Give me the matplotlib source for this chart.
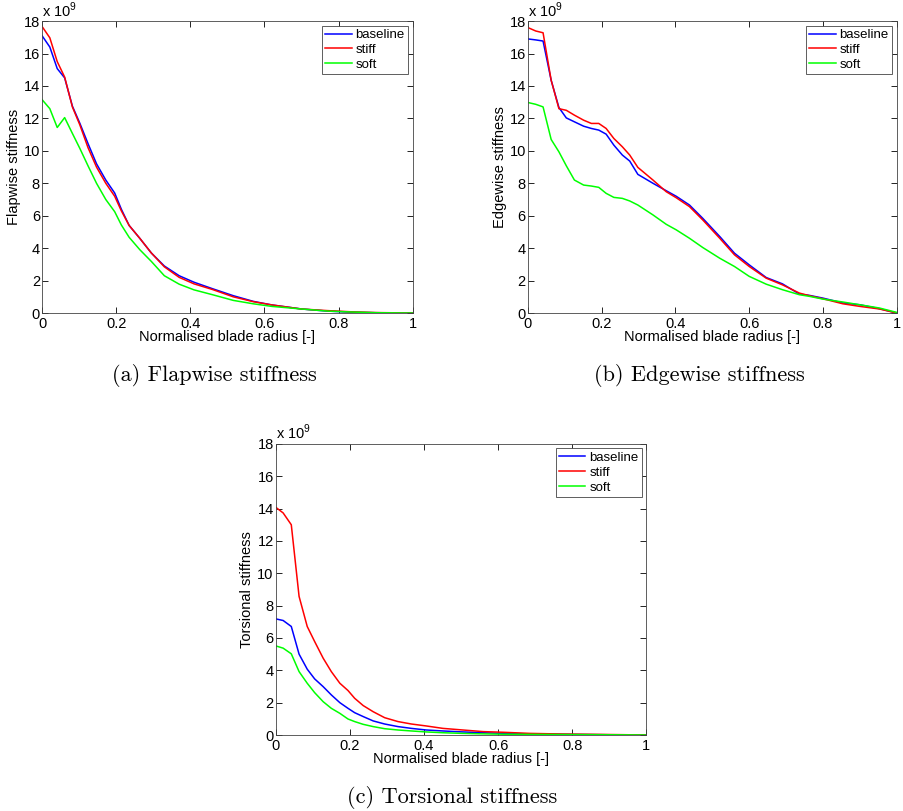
import matplotlib
matplotlib.use("Agg")
import matplotlib.pyplot as plt

plt.rcParams['font.family'] = ['Liberation Sans', 'DejaVu Sans']
plt.rcParams['mathtext.fontset'] = 'custom'
plt.rcParams['mathtext.rm'] = 'Liberation Sans'
plt.rcParams['font.size'] = 10.5

# stiffness values in units of 1e9
r_flap = [0, 0.021, 0.041, 0.061, 0.082, 0.102, 0.124, 0.147, 0.172, 0.196, 0.214,
          0.235, 0.264, 0.295, 0.33, 0.37, 0.41, 0.46, 0.516, 0.57, 0.62, 0.70,
          0.77, 0.84, 0.9, 1.0]
flap_baseline = [17.1, 16.4, 15.07, 14.5, 12.75, 11.7, 10.45, 9.2, 8.2, 7.4, 6.4,
                 5.4, 4.6, 3.7, 2.9, 2.3, 1.9, 1.5, 1.07, 0.72, 0.5, 0.25,
                 0.12, 0.05, 0.02, 0.0]
flap_stiff = [17.67, 16.97, 15.5, 14.55, 12.7, 11.6, 10.2, 9.0, 8.0, 7.2, 6.3,
              5.4, 4.6, 3.7, 2.85, 2.2, 1.8, 1.45, 1.0, 0.7, 0.5, 0.25,
              0.15, 0.07, 0.03, 0.0]
flap_soft = [13.16, 12.6, 11.44, 12.05, 11.07, 10.15, 9.08, 8.0, 7.0, 6.25, 5.43,
             4.67, 3.9, 3.18, 2.3, 1.78, 1.43, 1.13, 0.78, 0.57, 0.41, 0.25,
             0.12, 0.06, 0.02, 0.0]

r_edge = [0, 0.021, 0.041, 0.063, 0.084, 0.104, 0.126, 0.151, 0.172, 0.192, 0.212,
          0.233, 0.256, 0.276, 0.298, 0.339, 0.375, 0.402, 0.438, 0.474, 0.52,
          0.56, 0.60, 0.646, 0.69, 0.736, 0.763, 0.8, 0.854, 0.9, 0.953, 1.0]
edge_baseline = [16.9, 16.84, 16.77, 14.35, 12.67, 12.03, 11.79, 11.52, 11.38, 11.28, 11.03,
                 10.35, 9.74, 9.37, 8.55, 8.0, 7.54, 7.2, 6.66, 5.84, 4.72,
                 3.69, 2.97, 2.19, 1.8, 1.17, 1.09, 0.92, 0.62, 0.51, 0.27, 0.0]
edge_stiff = [17.6, 17.39, 17.28, 14.35, 12.6, 12.5, 12.2, 11.89, 11.69, 11.69, 11.38,
              10.76, 10.25, 9.74, 8.98, 8.2, 7.48, 7.11, 6.56, 5.74, 4.61,
              3.59, 2.87, 2.15, 1.74, 1.23, 1.07, 0.88, 0.57, 0.41, 0.25, 0.0]
edge_soft = [12.98, 12.87, 12.71, 10.7, 9.94, 9.08, 8.2, 7.89, 7.83, 7.75, 7.38,
             7.13, 7.07, 6.91, 6.66, 6.05, 5.47, 5.13, 4.61, 4.04, 3.38,
             2.87, 2.26, 1.78, 1.44, 1.13, 1.03, 0.86, 0.68, 0.51, 0.31, 0.04]

r_tors = [0, 0.02, 0.042, 0.063, 0.085, 0.105, 0.128, 0.15, 0.173, 0.195, 0.213,
          0.236, 0.263, 0.294, 0.33, 0.366, 0.406, 0.451, 0.505, 0.56, 0.613,
          0.685, 0.775, 0.865, 0.937, 1.0]
tors_baseline = [7.18, 7.08, 6.71, 5.0, 4.07, 3.47, 2.99, 2.48, 2.0, 1.65, 1.38,
                 1.14, 0.87, 0.68, 0.52, 0.41, 0.31, 0.25, 0.19, 0.14, 0.1,
                 0.07, 0.04, 0.02, 0.01, 0.0]
tors_stiff = [14.08, 13.73, 13.0, 8.57, 6.71, 5.78, 4.75, 3.92, 3.2, 2.75, 2.27,
              1.82, 1.44, 1.07, 0.83, 0.68, 0.56, 0.41, 0.31, 0.21, 0.17,
              0.1, 0.06, 0.04, 0.02, 0.0]
tors_soft = [5.51, 5.37, 5.02, 3.92, 3.2, 2.62, 2.06, 1.65, 1.34, 0.99, 0.83,
             0.66, 0.52, 0.39, 0.31, 0.25, 0.19, 0.14, 0.1, 0.07, 0.05,
             0.04, 0.03, 0.02, 0.01, 0.0]

cases = ['baseline', 'stiff', 'soft']
colors = ['#0000ff', '#ff0000', '#00ff00']

# axes rect, caption centre x, radius, series, y label, caption
panels = [
    ([0.0465, 0.614, 0.410, 0.360], 0.237, r_flap, [flap_baseline, flap_stiff, flap_soft],
     'Flapwise stiffness', '(a) Flapwise stiffness'),
    ([0.584, 0.614, 0.408, 0.360], 0.774, r_edge, [edge_baseline, edge_stiff, edge_soft],
     'Edgewise stiffness', '(b) Edgewise stiffness'),
    ([0.305, 0.0937, 0.410, 0.359], 0.500, r_tors, [tors_baseline, tors_stiff, tors_soft],
     'Torsional stiffness', '(c) Torsional stiffness'),
]

fig = plt.figure(figsize=(9.04, 8.11), dpi=100)

for rect, cx, r, series, ylabel, caption in panels:
    ax = fig.add_axes(rect)
    for vals, name, c in zip(series, cases, colors):
        ax.plot(r, vals, color=c, lw=1.1, label=name)
    ax.set_xlim(0, 1)
    ax.set_ylim(0, 18)
    ax.set_xticks([0, 0.2, 0.4, 0.6, 0.8, 1])
    ax.set_xticklabels(['0', '0.2', '0.4', '0.6', '0.8', '1'])
    ax.set_yticks(range(0, 19, 2))
    ax.tick_params(direction='in', top=True, right=True, length=4, width=0.6, pad=1.5)
    ax.tick_params(axis='x', pad=3)
    for s in ax.spines.values():
        s.set_linewidth(0.6)
        s.set_color('#444444')
    ax.set_xlabel('Normalised blade radius [-]', labelpad=-1)
    ax.set_ylabel(ylabel, labelpad=2)
    ax.text(0.0, 1.005, r'x 10$^{9}$', transform=ax.transAxes, ha='left', va='bottom',
            fontsize=10.5)
    leg = ax.legend(loc='upper right', fancybox=False, framealpha=1, fontsize=9.5,
                    edgecolor='#444444', handlelength=2.0, handletextpad=0.3,
                    borderaxespad=0.35, labelspacing=0.2, borderpad=0.25)
    leg.get_frame().set_linewidth(0.6)
    fig.text(cx, rect[1] - 0.077, caption, ha='center', va='center',
             fontsize=16, family='cmr10')

fig.savefig('out.png', dpi=100)
